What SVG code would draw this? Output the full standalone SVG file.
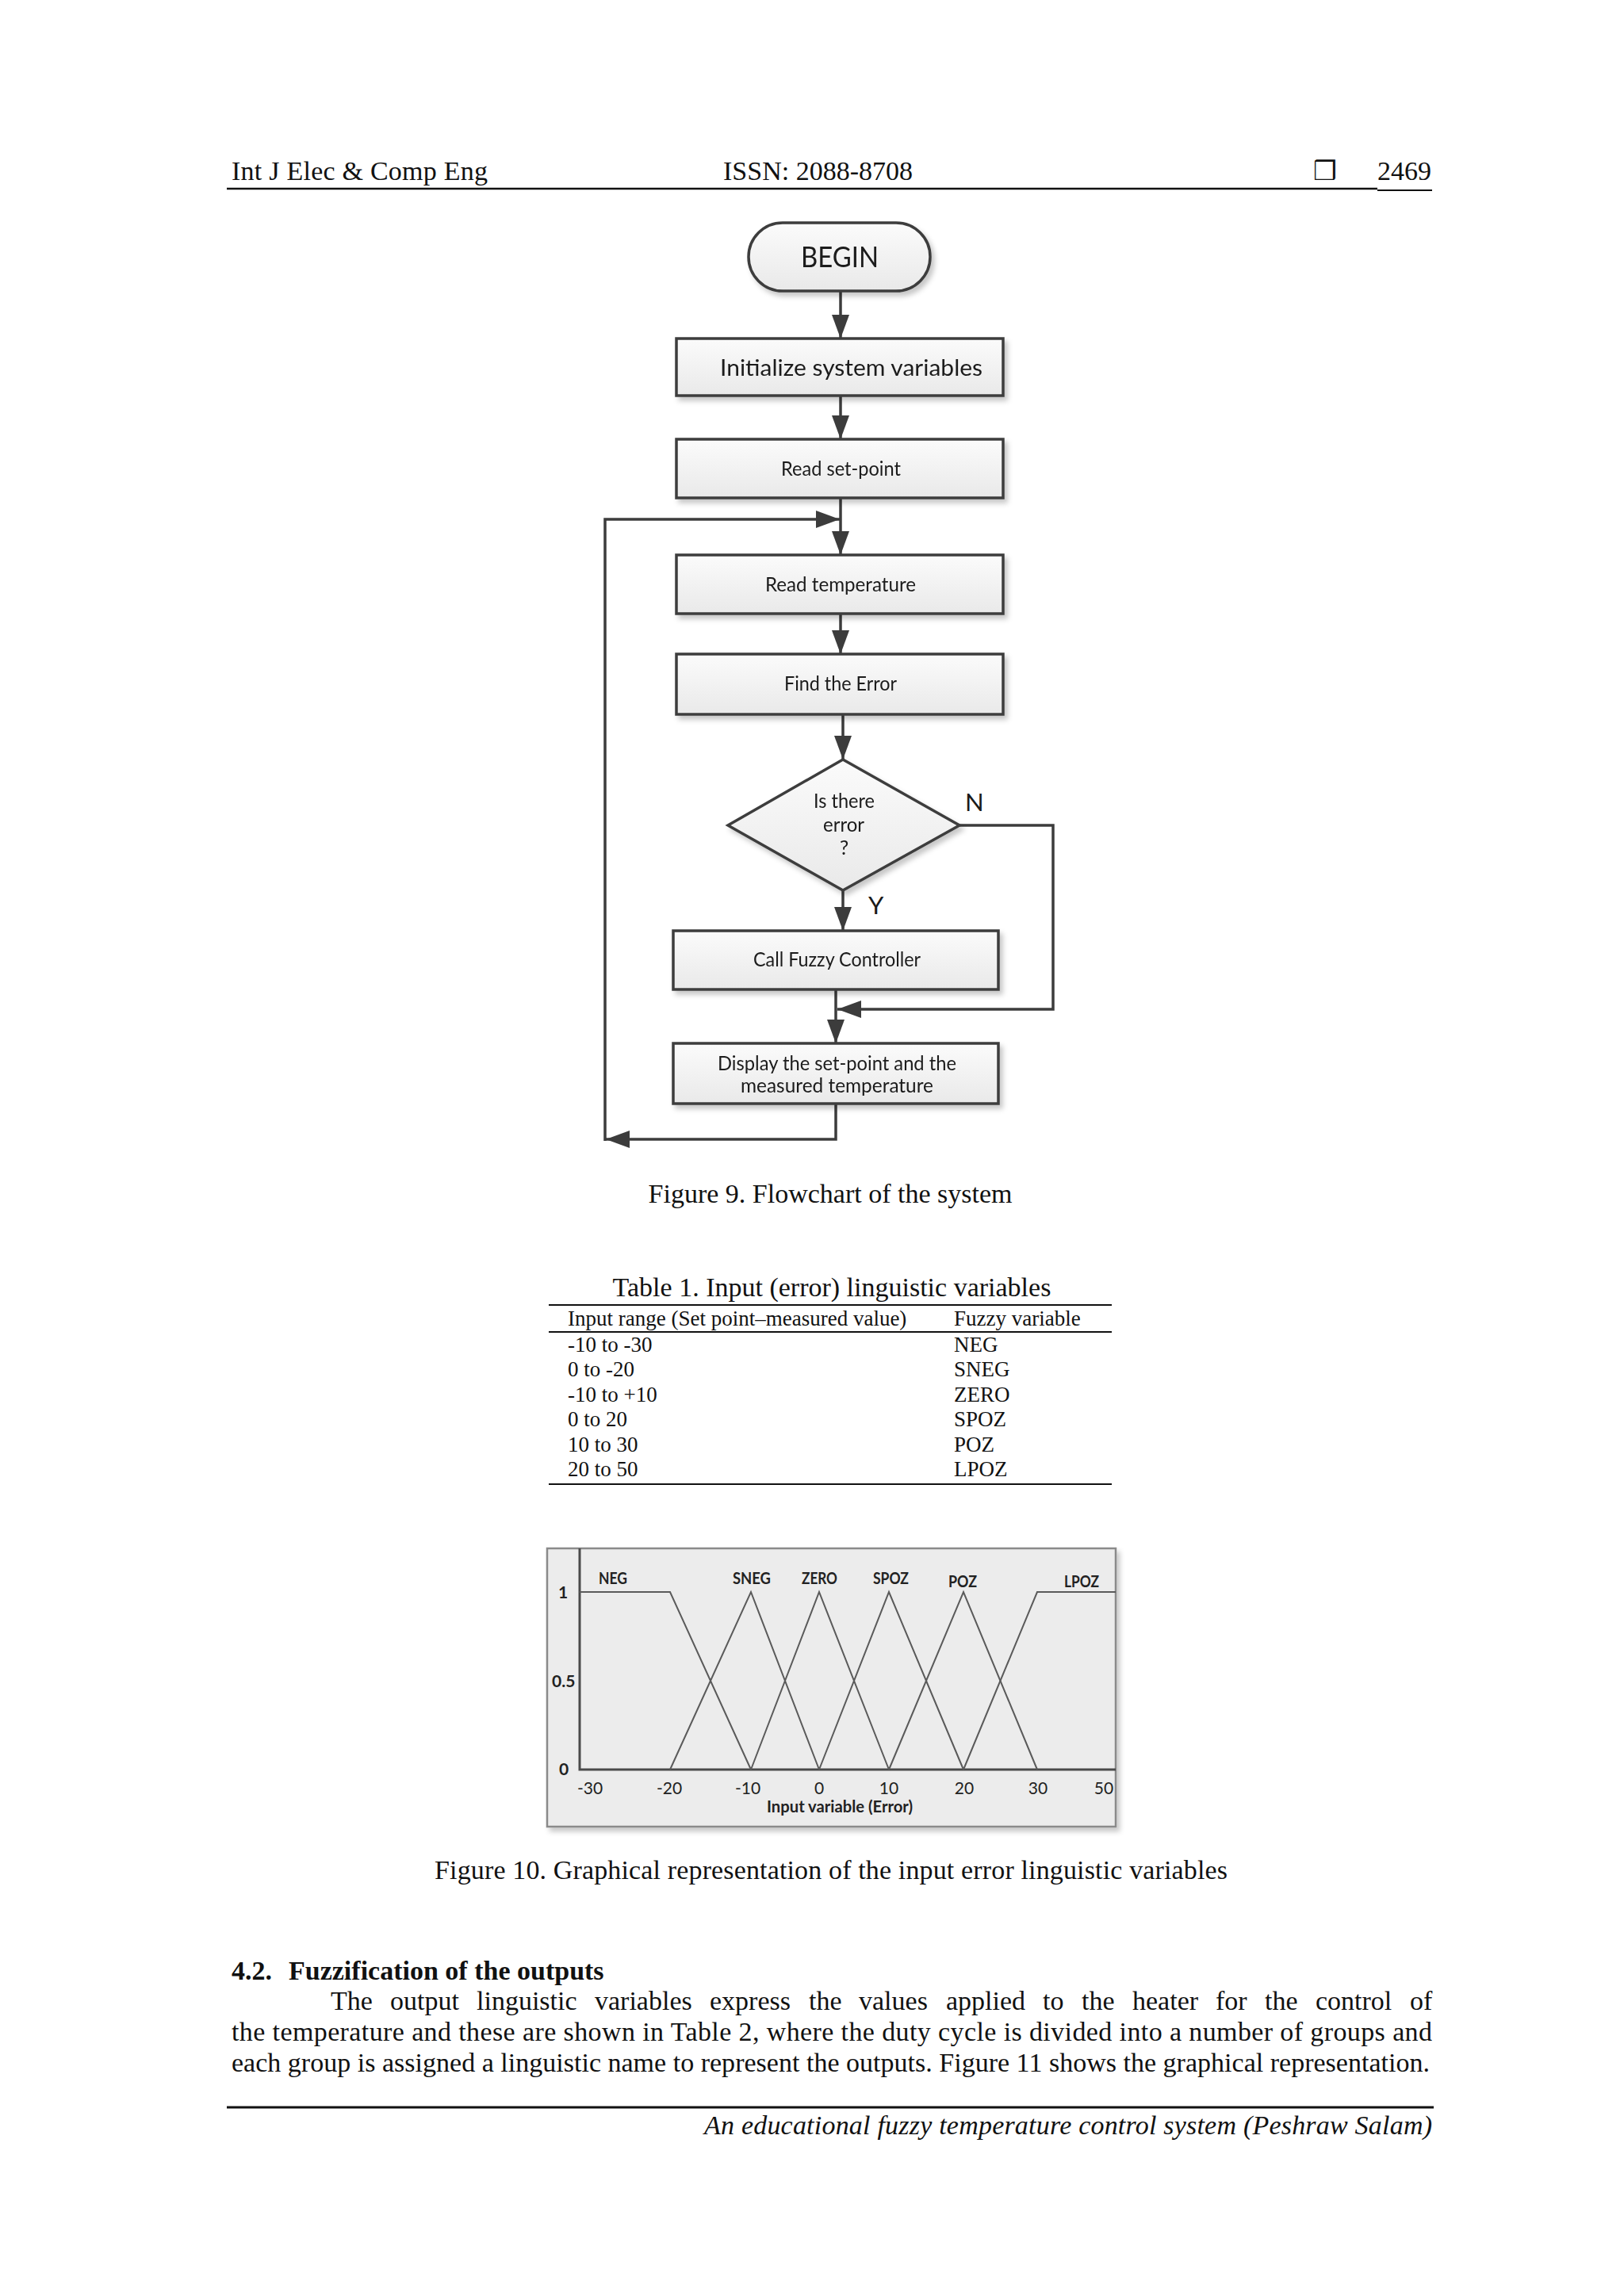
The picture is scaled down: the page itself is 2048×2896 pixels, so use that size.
<svg xmlns="http://www.w3.org/2000/svg" width="2048" height="2896" viewBox="0 0 2048 2896">
<defs>
<style>
.serif{font-family:"Liberation Serif","Times New Roman",serif;fill:#111}
.fc{font-family:Lato,"Open Sans","Liberation Sans",sans-serif;fill:#1a1a1a}
.box{fill:url(#g);stroke:#3c3c3c;stroke-width:3.5}
.cn{fill:none;stroke:#3c3c3c;stroke-width:3.5}
.crv{fill:none;stroke:#5a5a5a;stroke-width:2}
.ax{fill:none;stroke:#4a4a4a;stroke-width:3}
.ch{font-family:Lato,"Open Sans","Liberation Sans",sans-serif;fill:#222;font-size:21px}
.b{font-weight:bold}
.rule{stroke:#111;stroke-width:2}
</style>
<linearGradient id="g" x1="0" y1="0" x2="0" y2="1">
<stop offset="0" stop-color="#fbfbfb"/>
<stop offset="1" stop-color="#e9e9e9"/>
</linearGradient>
<filter id="sh" x="-10%" y="-10%" width="130%" height="140%">
<feDropShadow dx="4" dy="5" stdDeviation="3" flood-color="#000" flood-opacity="0.22"/>
</filter>
<marker id="ah" viewBox="0 0 30 22" refX="30" refY="11" markerWidth="30" markerHeight="22" markerUnits="userSpaceOnUse" orient="auto" preserveAspectRatio="none">
<path d="M0,0 L30,11 L0,22 z" fill="#3c3c3c"/>
</marker>
</defs>
<rect width="2048" height="2896" fill="#fff"/>

<!-- page header -->
<g id="header">
<text class="serif" x="292" y="227" font-size="34" textLength="323" lengthAdjust="spacing">Int J Elec &amp; Comp Eng</text>
<text class="serif" x="912" y="227" font-size="34">ISSN: 2088-8708</text>
<text class="serif" x="1656" y="227" font-size="33" font-weight="bold" style="font-family:'DejaVu Sans',sans-serif">❒</text>
<text class="serif" x="1737" y="227" font-size="34">2469</text>
<line x1="286" y1="238" x2="1737" y2="238" stroke="#111" stroke-width="2.5"/>
<line x1="1737" y1="240" x2="1806" y2="240" stroke="#111" stroke-width="2"/>
</g>

<!-- flowchart connectors -->
<g id="connectors">
<path class="cn" d="M1060,367 V427" marker-end="url(#ah)"/>
<path class="cn" d="M1060,499 V554" marker-end="url(#ah)"/>
<path class="cn" d="M1060,628 V700" marker-end="url(#ah)"/>
<path class="cn" d="M1060,774 V825" marker-end="url(#ah)"/>
<path class="cn" d="M1063,901 V958" marker-end="url(#ah)"/>
<path class="cn" d="M1063,1123 V1174" marker-end="url(#ah)"/>
<path class="cn" d="M1210,1041 H1328 V1273 H1056" marker-end="url(#ah)"/>
<path class="cn" d="M1054,1248 V1316" marker-end="url(#ah)"/>
<path class="cn" d="M1054,1392 V1437 H764" marker-end="url(#ah)"/>
<path class="cn" d="M763,1439 V655 H1059" marker-end="url(#ah)"/>
<text class="fc" x="1217" y="1023" font-size="31">N</text>
<text class="fc" x="1095" y="1153" font-size="31">Y</text>
</g>

<g id="n-begin" filter="url(#sh)">
<rect class="box" x="944" y="281" width="229" height="86" rx="43" ry="43"/>
<text class="fc" x="1010" y="337" font-size="37" textLength="98" lengthAdjust="spacingAndGlyphs">BEGIN</text>
</g>
<g id="n-init" filter="url(#sh)">
<rect class="box" x="853" y="427" width="412" height="72"/>
<text class="fc" x="908" y="474" font-size="29" textLength="331" lengthAdjust="spacingAndGlyphs">Initialize system variables</text>
</g>
<g id="n-readsp" filter="url(#sh)">
<rect class="box" x="853" y="554" width="412" height="74"/>
<text class="fc" x="985" y="600" font-size="25" textLength="151" lengthAdjust="spacingAndGlyphs">Read set-point</text>
</g>
<g id="n-readtemp" filter="url(#sh)">
<rect class="box" x="853" y="700" width="412" height="74"/>
<text class="fc" x="965" y="746" font-size="25" textLength="190" lengthAdjust="spacingAndGlyphs">Read temperature</text>
</g>
<g id="n-finderr" filter="url(#sh)">
<rect class="box" x="853" y="825" width="412" height="76"/>
<text class="fc" x="989" y="871" font-size="25" textLength="142" lengthAdjust="spacingAndGlyphs">Find the Error</text>
</g>
<g id="n-decision" filter="url(#sh)">
<polygon class="box" points="1063,958 1210,1041 1063,1123 918,1041"/>
<text class="fc" x="1026" y="1019" font-size="25" textLength="77" lengthAdjust="spacingAndGlyphs">Is there</text>
<text class="fc" x="1038" y="1049" font-size="25" textLength="52" lengthAdjust="spacingAndGlyphs">error</text>
<text class="fc" x="1059" y="1078" font-size="25">?</text>
</g>
<g id="n-fuzzy" filter="url(#sh)">
<rect class="box" x="849" y="1174" width="410" height="74"/>
<text class="fc" x="950" y="1219" font-size="25" textLength="211" lengthAdjust="spacingAndGlyphs">Call Fuzzy Controller</text>
</g>
<g id="n-display" filter="url(#sh)">
<rect class="box" x="849" y="1316" width="410" height="76"/>
<text class="fc" x="905" y="1350" font-size="25" textLength="301" lengthAdjust="spacingAndGlyphs">Display the set-point and the</text>
<text class="fc" x="934" y="1378" font-size="25" textLength="243" lengthAdjust="spacingAndGlyphs">measured temperature</text>
</g>

<text class="serif" x="1047" y="1517" font-size="34" text-anchor="middle">Figure 9. Flowchart of the system</text>

<!-- table -->
<g id="table1">
<text class="serif" x="1049" y="1635" font-size="34" text-anchor="middle">Table 1. Input (error) linguistic variables</text>
<line class="rule" x1="692" y1="1646" x2="1402" y2="1646"/>
<line class="rule" x1="692" y1="1680" x2="1402" y2="1680" stroke-width="1.6"/>
<line class="rule" x1="692" y1="1872" x2="1402" y2="1872"/>
<g class="serif" font-size="27">
<text x="716" y="1672">Input range (Set point–measured value)</text>
<text x="1203" y="1672">Fuzzy variable</text>
<text x="716" y="1705">-10 to -30</text><text x="1203" y="1705">NEG</text>
<text x="716" y="1736">0 to -20</text><text x="1203" y="1736">SNEG</text>
<text x="716" y="1768">-10 to +10</text><text x="1203" y="1768">ZERO</text>
<text x="716" y="1799">0 to 20</text><text x="1203" y="1799">SPOZ</text>
<text x="716" y="1831">10 to 30</text><text x="1203" y="1831">POZ</text>
<text x="716" y="1862">20 to 50</text><text x="1203" y="1862">LPOZ</text>
</g>
</g>

<!-- chart -->
<g id="chart">
<rect x="690" y="1953" width="717" height="351" fill="#ececec" stroke="#8a8a8a" stroke-width="2.5" filter="url(#sh)"/>
<path class="ax" d="M731,1953 V2232 H1407"/>
<path class="crv" d="M731,2008 H845 L947,2232"/>
<path class="crv" d="M845,2232 L947,2008 L1033,2232"/>
<path class="crv" d="M947,2232 L1033,2008 L1121,2232"/>
<path class="crv" d="M1033,2232 L1121,2008 L1215,2232"/>
<path class="crv" d="M1121,2232 L1215,2008 L1308,2232"/>
<path class="crv" d="M1215,2232 L1308,2008 H1407"/>
<text class="ch b" x="755" y="1998" textLength="36" lengthAdjust="spacingAndGlyphs">NEG</text>
<text class="ch b" x="924" y="1998" textLength="48" lengthAdjust="spacingAndGlyphs">SNEG</text>
<text class="ch b" x="1011" y="1998" textLength="45" lengthAdjust="spacingAndGlyphs">ZERO</text>
<text class="ch b" x="1101" y="1998" textLength="45" lengthAdjust="spacingAndGlyphs">SPOZ</text>
<text class="ch b" x="1196" y="2002" textLength="36" lengthAdjust="spacingAndGlyphs">POZ</text>
<text class="ch b" x="1342" y="2002" textLength="44" lengthAdjust="spacingAndGlyphs">LPOZ</text>
<text class="ch b" x="704" y="2016" font-size="23">1</text>
<text class="ch b" x="696" y="2128" font-size="22">0.5</text>
<text class="ch b" x="705" y="2239" font-size="23">0</text>
<g class="ch" text-anchor="middle">
<text x="744" y="2263">-30</text>
<text x="844" y="2263">-20</text>
<text x="943" y="2263">-10</text>
<text x="1033" y="2263">0</text>
<text x="1121" y="2263">10</text>
<text x="1216" y="2263">20</text>
<text x="1309" y="2263">30</text>
<text x="1392" y="2263">50</text>
</g>
<text class="ch b" x="967" y="2286" textLength="184" lengthAdjust="spacingAndGlyphs">Input variable (Error)</text>
</g>

<text class="serif" x="1048" y="2370" font-size="34" text-anchor="middle" textLength="1000" lengthAdjust="spacing">Figure 10. Graphical representation of the input error linguistic variables</text>

<!-- body text -->
<g id="body" class="serif" font-size="34">
<text x="292" y="2497" font-weight="bold">4.2.<tspan x="364">Fuzzification of the outputs</tspan></text>
<text y="2535"><tspan x="417">The</tspan><tspan x="492">output</tspan><tspan x="601">linguistic</tspan><tspan x="750">variables</tspan><tspan x="895">express</tspan><tspan x="1020">the</tspan><tspan x="1083">values</tspan><tspan x="1193">applied</tspan><tspan x="1315">to</tspan><tspan x="1364">the</tspan><tspan x="1428">heater</tspan><tspan x="1533">for</tspan><tspan x="1595">the</tspan><tspan x="1659">control</tspan><tspan x="1778">of</tspan></text>
<text x="292" y="2574" textLength="1514" lengthAdjust="spacing">the temperature and these are shown in Table 2, where the duty cycle is divided into a number of groups and</text>
<text x="292" y="2613" textLength="1511" lengthAdjust="spacing">each group is assigned a linguistic name to represent the outputs. Figure 11 shows the graphical representation.</text>
</g>

<!-- footer -->
<g id="footer">
<line x1="286" y1="2658" x2="1808" y2="2658" stroke="#111" stroke-width="3"/>
<text class="serif" x="1806" y="2692" font-size="34" font-style="italic" text-anchor="end" textLength="918" lengthAdjust="spacing">An educational fuzzy temperature control system (Peshraw Salam)</text>
</g>
</svg>
